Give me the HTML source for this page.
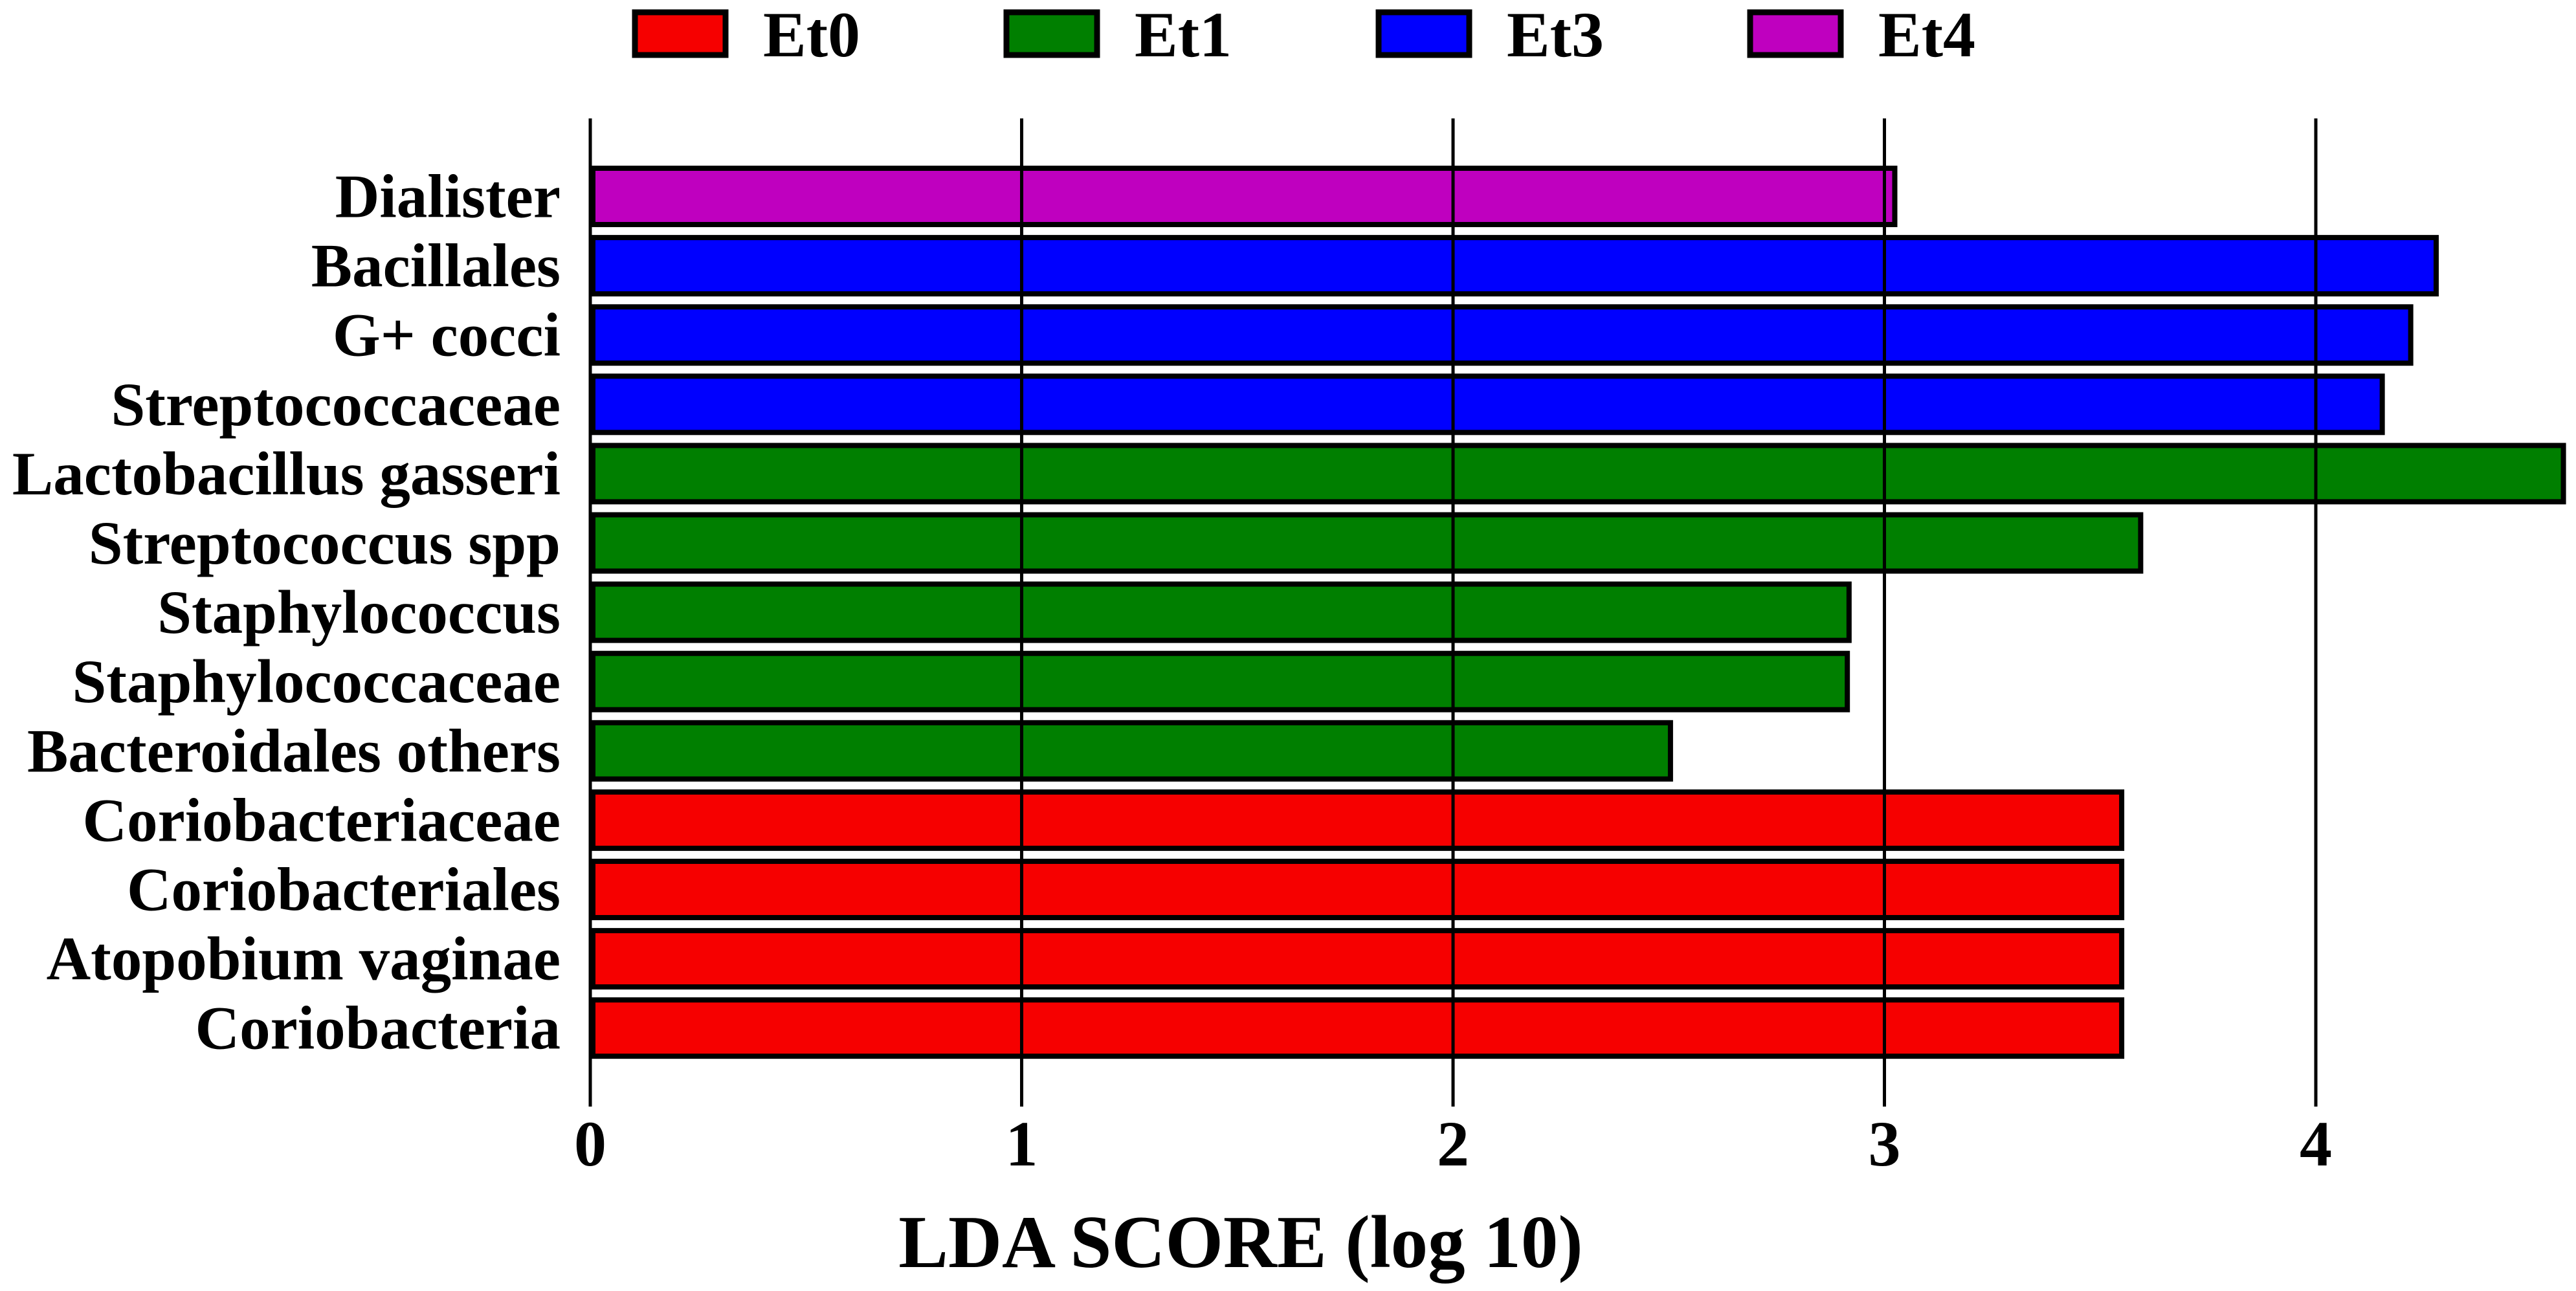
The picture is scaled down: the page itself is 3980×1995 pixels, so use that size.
<!DOCTYPE html>
<html><head><meta charset="utf-8"><style>
html,body{margin:0;padding:0;background:#fff;}
svg{display:block;font-family:"Liberation Serif",serif;font-weight:bold;}
</style></head><body>
<svg id="chart" width="3980" height="1995" viewBox="0 0 3980 1995" xmlns="http://www.w3.org/2000/svg">
<g id="legend"></g>
<g id="grid"></g>
<g id="bars"></g>
<g id="ylabels"></g>
<g id="xticks"></g>
<text x="1917" y="1958" font-size="115" text-anchor="middle">LDA SCORE (log 10)</text>
</svg>
<script>
const categories = ["Dialister","Bacillales","G+ cocci","Streptococcaceae","Lactobacillus gasseri","Streptococcus spp","Staphylococcus","Staphylococcaceae","Bacteroidales others","Coriobacteriaceae","Coriobacteriales","Atopobium vaginae","Coriobacteria"];
const values = [3.03,4.285,4.226,4.16,4.58,3.60,2.924,2.92,2.51,3.556,3.556,3.556,3.556];
const groups = ["Et4","Et3","Et3","Et3","Et1","Et1","Et1","Et1","Et1","Et0","Et0","Et0","Et0"];
const legendNames = ["Et0","Et1","Et3","Et4"];
const xTicks = [0,1,2,3,4];
const colors = {Et0:"#f60000",Et1:"#007f00",Et3:"#0000ff",Et4:"#bf00bf"};
const NS = "http://www.w3.org/2000/svg";
const x0 = 912, unit = 666.5;
function xs(v){ return x0 + v*unit; }
const barTop0 = 256, pitch = 107.1, barH = 95;
function ys(i){ return barTop0 + i*pitch; }
function mk(tag, attrs, parent){ const e=document.createElementNS(NS,tag); for(const k in attrs) e.setAttribute(k,attrs[k]); parent.appendChild(e); return e; }

const grid=document.getElementById('grid');
xTicks.forEach(t=>{
  const l=mk('line',{x1:xs(t),x2:xs(t),y1:183,y2:1710,stroke:'#000','stroke-width':5},grid);
  
  
  const tx=mk('text',{x:xs(t),y:1801,'font-size':100,'text-anchor':'middle'},document.getElementById('xticks'));
  tx.textContent=String(t);
  
  
});

const bars=document.getElementById('bars'), yl=document.getElementById('ylabels');
categories.forEach((c,i)=>{
  const r=mk('rect',{x:xs(0)+4,y:ys(i)+4,width:xs(values[i])-xs(0)-8,height:barH-8,fill:colors[groups[i]],stroke:'#000','stroke-width':8},bars);
  
  
  const t=mk('text',{x:866,y:ys(i)+barH/2+32,'font-size':95,'text-anchor':'end'},yl);
  t.textContent=c;
  
  
});
grid.parentNode.appendChild(grid);

const lg=document.getElementById('legend');
const boxX=[976,1550,2125,2699];
legendNames.forEach((n,i)=>{
  const b=mk('rect',{x:boxX[i]+5,y:19,width:140,height:66,fill:colors[n],stroke:'#000','stroke-width':9},lg);
  
  
  const t=mk('text',{x:boxX[i]+203,y:87,'font-size':100},lg);
  t.textContent=n;
  
  
});
</script>
</body></html>
